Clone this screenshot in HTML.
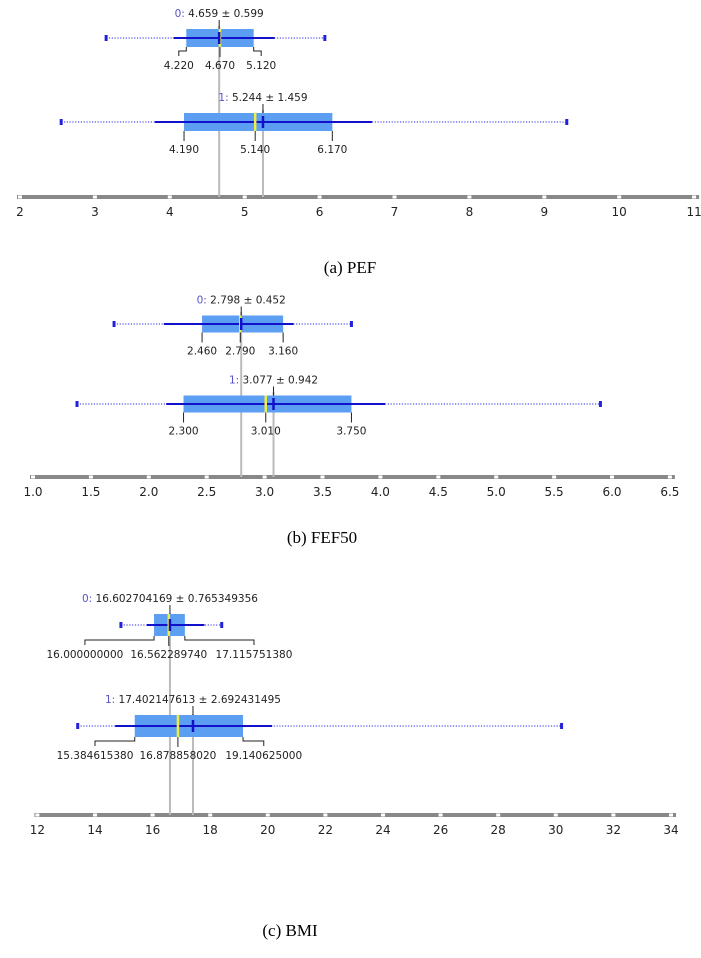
<!DOCTYPE html>
<html><head><meta charset="utf-8"><style>
body{margin:0;background:#fff;width:701px;height:953px;overflow:hidden}
svg text{font-family:"DejaVu Sans","Liberation Sans",sans-serif;font-size:10.5px;fill:#222}
.cap{font-family:"Liberation Serif",serif;font-size:17px;fill:#000}
</style></head><body>
<svg id="s" width="701" height="953" xmlns="http://www.w3.org/2000/svg"></svg>
<script>
const S=document.getElementById('s');let h='';
function panel(p){
 const X=v=>p.x0+(v-p.v0)*p.u;
 h+=`<line x1="${X(p.v0)-3}" y1="${p.ay}" x2="${X(p.ticks[p.ticks.length-1])+5}" y2="${p.ay}" stroke="#888" stroke-width="4"/>`;
 p.ticks.forEach(t=>{h+=`<rect x="${X(t)-2}" y="${p.ay-1.5}" width="4" height="3" fill="#fff"/><text x="${X(t)}" y="${p.ay+19}" text-anchor="middle" style="font-size:12px">${p.fmt(t)}</text>`;});
 p.rows.forEach(r=>{h+=`<line x1="${X(r.mean)}" y1="${r.y-12}" x2="${X(r.mean)}" y2="${p.ay}" stroke="#bbb" stroke-width="2"/>`;});
 p.rows.forEach((r,i)=>{
  const y=r.y,hb=p.hb;
  h+=`<line x1="${X(r.dl)}" y1="${y}" x2="${X(r.dr)}" y2="${y}" stroke="#55e" stroke-width="1.3" stroke-dasharray="1.2 1.6"/>`;
  h+=`<rect x="${X(r.dl)-1.5}" y="${y-3}" width="3" height="6" fill="#22d"/><rect x="${X(r.dr)-1.5}" y="${y-3}" width="3" height="6" fill="#22d"/>`;
  h+=`<rect x="${X(r.q1)}" y="${y-hb}" width="${X(r.q3)-X(r.q1)}" height="${2*hb}" fill="#5b9ef2"/>`;
  h+=`<line x1="${X(r.sl)}" y1="${y}" x2="${X(r.sr)}" y2="${y}" stroke="#11c" stroke-width="2"/>`;
  h+=`<line x1="${X(r.med)}" y1="${y-hb}" x2="${X(r.med)}" y2="${y+hb}" stroke="#ee4" stroke-width="2.5"/>`;
  h+=`<line x1="${X(r.mean)}" y1="${y-6}" x2="${X(r.mean)}" y2="${y+6}" stroke="#11c" stroke-width="2.5"/>`;
  h+=`<line x1="${X(r.mean)}" y1="${y-hb-9}" x2="${X(r.mean)}" y2="${y-hb}" stroke="#222" stroke-width="1"/>`;
  h+=`<text x="${X(r.mean)}" y="${y-hb-12}" text-anchor="middle"><tspan style="fill:#55c">${i}:</tspan> ${r.lbl}</text>`;
  r.ql.forEach(q=>{
   h+=`<path d="M${X(q.v)} ${y+hb} v4 ${q.lx!==undefined?`H${X(q.lx)} v5`:'v6'}" fill="none" stroke="#222"/>`;
   h+=`<text x="${X(q.lx!==undefined?q.lx:q.v)}" y="${y+hb+22}" text-anchor="middle">${q.t}</text>`;
  });
 });
}
panel({x0:20,v0:2,u:74.9,ay:197,ticks:[2,3,4,5,6,7,8,9,10,11],fmt:t=>t,hb:9,rows:[
 {y:38,mean:4.659,med:4.67,q1:4.22,q3:5.12,dl:3.15,dr:6.07,sl:4.05,sr:5.4,lbl:'4.659 ± 0.599',ql:[{v:4.22,lx:4.12,t:'4.220'},{v:4.67,t:'4.670'},{v:5.12,lx:5.22,t:'5.120'}]},
 {y:122,mean:5.244,med:5.14,q1:4.19,q3:6.17,dl:2.55,dr:9.3,sl:3.8,sr:6.7,lbl:'5.244 ± 1.459',ql:[{v:4.19,t:'4.190'},{v:5.14,t:'5.140'},{v:6.17,t:'6.170'}]}]});
panel({x0:33,v0:1,u:115.8,ay:477,ticks:[1,1.5,2,2.5,3,3.5,4,4.5,5,5.5,6,6.5],fmt:t=>t.toFixed(1),hb:8.5,rows:[
 {y:324,mean:2.798,med:2.79,q1:2.46,q3:3.16,dl:1.7,dr:3.75,sl:2.13,sr:3.25,lbl:'2.798 ± 0.452',ql:[{v:2.46,t:'2.460'},{v:2.79,t:'2.790'},{v:3.16,t:'3.160'}]},
 {y:404,mean:3.077,med:3.01,q1:2.3,q3:3.75,dl:1.38,dr:5.9,sl:2.15,sr:4.04,lbl:'3.077 ± 0.942',ql:[{v:2.3,t:'2.300'},{v:3.01,t:'3.010'},{v:3.75,t:'3.750'}]}]});
panel({x0:37.4,v0:12,u:28.8,ay:815,ticks:[12,14,16,18,20,22,24,26,28,30,32,34],fmt:t=>t,hb:11,rows:[
 {y:625,mean:16.6027,med:16.5623,q1:16.05,q3:17.12,dl:14.9,dr:18.4,sl:15.8,sr:17.8,lbl:'16.602704169 ± 0.765349356',ql:[{v:16.05,lx:13.65,t:'16.000000000'},{v:16.5623,t:'16.562289740'},{v:17.12,lx:19.52,t:'17.115751380'}]},
 {y:726,mean:17.4021,med:16.8789,q1:15.38,q3:19.14,dl:13.4,dr:30.2,sl:14.7,sr:20.15,lbl:'17.402147613 ± 2.692431495',ql:[{v:15.38,lx:14.0,t:'15.384615380'},{v:16.8789,t:'16.878858020'},{v:19.14,lx:19.86,t:'19.140625000'}]}]});
h+=`<text class="cap" x="350" y="273" text-anchor="middle">(a) PEF</text>`;
h+=`<text class="cap" x="322" y="543" text-anchor="middle">(b) FEF50</text>`;
h+=`<text class="cap" x="290" y="936" text-anchor="middle">(c) BMI</text>`;
S.innerHTML=h;
</script>
</body></html>
